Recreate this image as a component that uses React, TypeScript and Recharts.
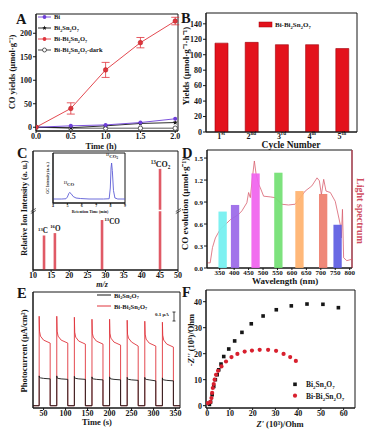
import React from "react";
import {
  Bar,
  BarChart,
  Cell,
  ErrorBar,
  LabelList,
  Line,
  LineChart,
  ComposedChart,
  ReferenceArea,
  ReferenceLine,
  Scatter,
  ScatterChart,
  XAxis,
  YAxis,
} from "recharts";

const FONT = "'Liberation Serif', 'Times New Roman', serif";
const INK = "#161616";
const RED = "#E0343C";

// ---- A: CO yields vs time
const timeH = [0, 0.5, 1.0, 1.5, 2.0];
const biYield = [0, 3, 5, 10, 18];
const bsoYield = [0, -1, 3, 8, 10];
const biBsoYield = [0, 40, 122, 180, 226];
const biBsoErr = [0, 12, 16, 11, 8];
const darkYield = [0, -2, -2, -2, -2];

// ---- B: cycling
const cycleNum = ["1", "2", "3", "4", "5"];
const cycleSuffix = ["st", "nd", "rd", "th", "th"];
const cycleYield = [115, 116, 113, 113, 108];

// ---- C: isotope MS
const massCharge = [13, 16, 29, 45];
const ionIntensity = [29, 31, 42, 85];
const ionMass = ["13", "16", "13", "13"];
const ionName = ["C", "O", "CO", "CO"];
const ionSub = ["", "", "", "2"];
// inset GC trace
const retTime = [4.0, 4.6, 4.9, 5.0, 5.1, 5.15, 5.25, 5.4, 5.6, 5.9, 6.5, 7.5, 7.9, 7.98, 8.03, 8.07, 8.12, 8.2, 8.3, 8.5, 9.0];
const gcIntensity = [8, 8, 8.5, 12, 19, 21, 19, 13, 10, 9, 8, 8, 8.5, 30, 70, 80, 65, 25, 10, 8, 8];

// ---- D: wavelength dependence
const bandCenter = [360, 403, 474, 553, 626, 708, 758];
const bandCO = [0.77, 0.86, 1.29, 1.3, 1.05, 1.01, 0.59];
const coTicks = [0, 0.3, 0.6, 0.9, 1.2, 1.5];
const wlTicks = [350, 400, 450, 500, 550, 600, 650, 700, 750, 800];
const specWl = [306, 317, 325, 335, 352, 369, 387, 415, 427, 444, 450, 456, 462, 470, 476, 485, 490, 502, 525, 542, 565, 588, 611, 629, 646, 669, 687, 695, 702, 710, 718, 733, 750, 767, 771, 775, 779, 790, 808];
const specVal = [0.07, 0.07, 0.28, 0.41, 0.53, 0.59, 0.66, 0.73, 0.78, 0.89, 1.03, 0.96, 1.19, 1.46, 1.28, 1.14, 1.1, 0.98, 0.97, 0.96, 0.87, 0.86, 0.87, 0.96, 1.05, 1.12, 1.23, 1.19, 1.0, 1.21, 1.05, 1.03, 0.91, 0.6, 0.41, 0.8, 0.14, 0.1, 0.12];
const bandPalette = ["#72F0F0", "#9A68E8", "#F062EE", "#72E072", "#FFB26E", "#EE7E6C", "#5C5CE2"];

// ---- E: photocurrent
const eTime = [
  26,
  40, 40, 40.8, 43, 50, 65, 65,
  80, 80, 80.8, 83, 90, 105, 105,
  120, 120, 120.8, 123, 130, 145, 145,
  160, 160, 160.8, 163, 170, 185, 185,
  200, 200, 200.8, 203, 210, 225, 225,
  240, 240, 240.8, 243, 250, 265, 265,
  280, 280, 280.8, 283, 290, 305, 305,
  320, 320, 320.8, 323, 330, 345, 345,
  360,
];
const eRed = [
  0,
  0, 90, 75, 70, 66, 63, 0,
  0, 90, 75, 70, 66, 63, 0,
  0, 89, 74, 69, 65, 62, 0,
  0, 87, 73, 69, 65, 62, 0,
  0, 87, 73, 68, 64, 61, 0,
  0, 86, 72, 68, 64, 60, 0,
  0, 85, 72, 67, 63, 60, 0,
  0, 84, 71, 66, 62, 59, 0,
  0,
];
const eBlack = [
  0,
  0, 30, 28.5, 28, 27.5, 27, 0,
  0, 30, 28, 27.5, 27, 26.5, 0,
  0, 29.5, 28, 27.5, 27, 26.5, 0,
  0, 29, 27.5, 27, 26.5, 26, 0,
  0, 29, 27.5, 27, 26.5, 26, 0,
  0, 28.5, 27, 26.5, 26, 25.5, 0,
  0, 28.5, 27, 26.5, 26, 25, 0,
  0, 28, 26.5, 26, 25.5, 25, 0,
  0,
];

// ---- F: Nyquist
const bsoRe = [1.0, 1.5, 2.2, 2.9, 3.6, 4.4, 5.1, 6.1, 7.3, 9.5, 12.1, 15.3, 19.4, 24.6, 30.4, 37.0, 43.9, 50.9, 57.7];
const bsoIm = [0.5, 1.4, 4.2, 7.4, 10.0, 11.9, 13.8, 16.0, 18.9, 21.8, 24.9, 28.2, 31.5, 34.5, 36.9, 38.4, 39.1, 39.0, 37.7];
const biBsoRe = [0.4, 1.4, 1.9, 2.2, 2.5, 2.9, 3.3, 3.9, 4.8, 6.3, 8.3, 10.7, 13.3, 16.5, 19.7, 23.1, 26.8, 30.3, 33.6, 36.5, 39.0];
const biBsoIm = [1.0, 1.4, 2.9, 4.9, 6.8, 8.3, 10.0, 11.9, 13.4, 15.1, 17.0, 18.7, 19.9, 20.8, 21.2, 21.5, 21.5, 21.1, 19.9, 18.7, 17.2];

type Seg = [string, number]; // 0 normal, 1 sub, 2 sup
const BSO: Seg[] = [["Bi", 0], ["2", 1], ["Sn", 0], ["2", 1], ["O", 0], ["7", 1]];
const BIBSO: Seg[] = [["Bi-", 0], ...BSO];

function Rich({ segs, size }: { segs: Seg[]; size: number }) {
  let prev = 0;
  return (
    <>
      {segs.map(([txt, k], i) => {
        const off = k === 1 ? size * 0.3 : k === 2 ? -size * 0.4 : 0;
        const dy = off - prev;
        prev = off;
        return (
          <tspan key={i} dy={dy} fontSize={k ? size * 0.65 : size}>
            {txt}
          </tspan>
        );
      })}
    </>
  );
}

const tick8 = { fontSize: 8, fontWeight: 700, fill: INK, fontFamily: FONT };
const tick7 = { ...tick8, fontSize: 7 };

function Frame({ y1, y2, yAxisId }: { y1: number; y2: number; yAxisId?: string }) {
  return <ReferenceArea yAxisId={yAxisId} y1={y1} y2={y2} fill="none" stroke={INK} strokeWidth={1} ifOverflow="visible" />;
}

function starPoints(cx: number, cy: number, r: number) {
  const pts: string[] = [];
  for (let k = 0; k < 10; k++) {
    const a = -Math.PI / 2 + (k * Math.PI) / 5;
    const rr = k % 2 === 0 ? r : r * 0.45;
    pts.push(`${cx + rr * Math.cos(a)},${cy + rr * Math.sin(a)}`);
  }
  return pts.join(" ");
}

// fixed-width bar drawn at the centre the scale gives
const slimBar = (w: number) => (p: any) => {
  if (!p.height || !Number.isFinite(p.height)) return <g />;
  return <rect x={p.x + p.width / 2 - w / 2} y={p.y} width={w} height={Math.max(p.height, 0)} fill={p.fill} fillOpacity={p.fillOpacity} />;
};

function PanelA() {
  const data = timeH.map((t, i) => ({
    t,
    bi: biYield[i],
    bso: bsoYield[i],
    bibso: biBsoYield[i],
    err: biBsoErr[i],
    dark: darkYield[i],
  }));
  return (
    <div style={{ position: "absolute", left: 0, top: 0 }}>
      <LineChart width={185} height={150} data={data} margin={{ top: 14, right: 7, left: 0, bottom: 0 }}>
        <Frame y1={-8} y2={241} />
        <XAxis dataKey="t" type="number" domain={[0, 2.04]} ticks={[0, 0.5, 1, 1.5, 2]} tickFormatter={(v) => Number(v).toFixed(1)} height={19} tick={tick8} tickSize={2} tickMargin={0} stroke={INK} allowDataOverflow />
        <YAxis domain={[-8, 241]} ticks={[0, 50, 100, 150, 200]} width={36} tick={tick8} tickSize={3} tickMargin={1} stroke={INK} allowDataOverflow />
        <Line dataKey="dark" stroke="#333" strokeWidth={0.8} isAnimationActive={false}
          dot={(p: any) => <circle key={p.index} cx={p.cx} cy={p.cy} r={2.2} fill="#fff" stroke="#333" strokeWidth={0.8} />} />
        <Line dataKey="bso" stroke={INK} strokeWidth={0.9} isAnimationActive={false}
          dot={(p: any) => <polygon key={p.index} points={starPoints(p.cx, p.cy, 2.6)} fill={INK} />} />
        <Line dataKey="bi" stroke="#6E3FD8" strokeWidth={0.9} isAnimationActive={false}
          dot={(p: any) => <circle key={p.index} cx={p.cx} cy={p.cy} r={2} fill="#6E3FD8" />} />
        <Line dataKey="bibso" stroke={RED} strokeWidth={0.9} isAnimationActive={false}
          dot={(p: any) => <circle key={p.index} cx={p.cx} cy={p.cy} r={2.3} fill={RED} stroke="#B02020" strokeWidth={0.5} />}>
          <ErrorBar dataKey="err" width={4} stroke={RED} strokeWidth={0.8} direction="y" />
        </Line>
      </LineChart>
    </div>
  );
}

function CycleTick(props: any) {
  const { x, payload } = props;
  const i = cycleNum.indexOf(String(payload.value));
  return (
    <text x={x} y={138.5} textAnchor="middle" fontSize={8} fontWeight={700} fontFamily={FONT} fill={INK}>
      <Rich segs={[[cycleNum[i], 0], [cycleSuffix[i], 2]]} size={8} />
    </text>
  );
}

function PanelB() {
  const data = cycleNum.map((c, i) => ({ cycle: c, y: cycleYield[i] }));
  return (
    <div style={{ position: "absolute", left: 185, top: 0 }}>
      <BarChart width={185} height={150} data={data} margin={{ top: 13, right: 13, left: 0, bottom: 0 }}>
        <Frame y1={0} y2={154} />
        <XAxis dataKey="cycle" height={18} tick={<CycleTick />} tickLine={false} tickSize={2} stroke={INK} />
        <YAxis domain={[0, 154]} ticks={[0, 20, 40, 60, 80, 100, 120, 140]} width={21} tick={tick8} tickSize={3} tickMargin={1} stroke={INK} allowDataOverflow />
        <Bar dataKey="y" barSize={13} fill="#E3121C" stroke="#A0000A" strokeWidth={0.6} isAnimationActive={false} />
      </BarChart>
    </div>
  );
}

function IonLabel(props: any) {
  const { x, y, width, index } = props;
  const cx = x + width / 2;
  const segs: Seg[] = [[ionMass[index], 2], [ionName[index], 0]];
  if (ionSub[index]) segs.push([ionSub[index], 1]);
  const fs = index === 3 ? 8 : 7.2;
  if (index === 2) {
    return (
      <text x={cx + 2.5} y={y + 4} fontSize={fs} fontWeight={700} fontFamily={FONT} fill={INK}>
        <Rich segs={segs} size={fs} />
      </text>
    );
  }
  return (
    <text x={cx + (index === 0 ? -1 : 0.5)} y={y - 2} textAnchor="middle" fontSize={fs} fontWeight={700} fontFamily={FONT} fill={INK}>
      <Rich segs={segs} size={fs} />
    </text>
  );
}

function PanelC() {
  const data = massCharge.map((m, i) => ({ m, v: ionIntensity[i] }));
  const gc = retTime.map((t, i) => ({ t, v: gcIntensity[i] }));
  return (
    <>
      <div style={{ position: "absolute", left: 0, top: 140 }}>
        <ComposedChart width={185} height={145} data={data} margin={{ top: 11, right: 7, left: 0, bottom: 0 }}>
          <Frame y1={0} y2={100} />
          <XAxis dataKey="m" type="number" domain={[10, 50]} ticks={[10, 15, 20, 25, 30, 35, 40, 45, 50]} interval={0} height={15} tick={tick8} tickSize={2} tickMargin={0} stroke={INK} allowDataOverflow />
          <YAxis domain={[0, 100]} width={33} tick={false} tickLine={false} stroke={INK} />
          <Bar dataKey="v" fill="#E05A66" shape={slimBar(2.6)} isAnimationActive={false}>
            <LabelList dataKey="v" content={<IonLabel />} />
          </Bar>
          <ReferenceLine y={50} stroke="#fff" strokeWidth={1.6} />
        </ComposedChart>
      </div>
      <div style={{ position: "absolute", left: 40, top: 150 }}>
        <LineChart width={90} height={68} data={gc} margin={{ top: 3, right: 5, left: 0, bottom: 0 }}>
          <Frame y1={0} y2={100} />
          <XAxis dataKey="t" type="number" domain={[4, 9]} ticks={[4, 5, 6, 7, 8, 9]} interval={0} height={15} tick={{ ...tick8, fontSize: 4 }} tickSize={1.5} tickMargin={0} stroke={INK} />
          <YAxis domain={[0, 100]} width={13} tick={false} tickLine={false} stroke={INK} />
          <Line dataKey="v" stroke="#5C5CD6" strokeWidth={0.9} dot={false} isAnimationActive={false} />
        </LineChart>
      </div>
    </>
  );
}

// D plot box (page px), used only for the left-axis value labels
const D_TOP = 150;
const D_BOTTOM = 268;
const D_LEFT = 207;
const D_MAX = 1.61;

function PanelD() {
  const bands = bandCenter.map((wl, i) => ({ wl, co: bandCO[i] }));
  const spec = specWl.map((wl, i) => ({ wl, spec: specVal[i] }));
  const margin = { top: 10, right: 18, left: 0, bottom: 0 };
  return (
    <>
      {/* axes + light spectrum */}
      <div style={{ position: "absolute", left: 185, top: 140 }}>
        <LineChart width={185} height={145} data={spec} margin={margin}>
          <Frame y1={0} y2={D_MAX} />
          <XAxis dataKey="wl" type="number" domain={[306, 808]} ticks={wlTicks} interval={0} height={17} tick={tick7} tickSize={2} tickMargin={0} stroke={INK} allowDataOverflow />
          <YAxis domain={[0, D_MAX]} ticks={coTicks} width={22} tick={false} tickLine={false} stroke={INK} allowDataOverflow />
          <Line dataKey="spec" stroke="#D8606E" strokeWidth={0.8} dot={false} isAnimationActive={false} />
          <ReferenceLine x={808} stroke="#D04E62" strokeWidth={1.2} />
        </LineChart>
      </div>
      {/* monochromatic bands, same plot box, drawn on top */}
      <div style={{ position: "absolute", left: 185, top: 140 }}>
        <BarChart width={185} height={145} data={bands} margin={margin}>
          <XAxis dataKey="wl" type="number" domain={[306, 808]} height={17} tick={false} tickLine={false} axisLine={false} allowDataOverflow />
          <YAxis domain={[0, D_MAX]} width={22} tick={false} tickLine={false} axisLine={false} allowDataOverflow />
          <Bar dataKey="co" fillOpacity={0.92} shape={slimBar(8.3)} isAnimationActive={false}>
            {bands.map((_, i) => (
              <Cell key={i} fill={bandPalette[i]} />
            ))}
          </Bar>
        </BarChart>
      </div>
    </>
  );
}

function PanelE() {
  const data = eTime.map((t, i) => ({ t, red: eRed[i], black: eBlack[i] }));
  return (
    <div style={{ position: "absolute", left: 0, top: 285 }}>
      <LineChart width={185} height={146} data={data} margin={{ top: 7, right: 5, left: 0, bottom: 0 }}>
        <Frame y1={-2.3} y2={114.4} />
        <XAxis dataKey="t" type="number" domain={[26, 360]} ticks={[50, 100, 150, 200, 250, 300, 350]} interval={0} height={23} tick={tick8} tickSize={2} tickMargin={0} stroke={INK} allowDataOverflow />
        <YAxis domain={[-2.3, 114.4]} width={33} tick={false} tickLine={false} stroke={INK} allowDataOverflow />
        <Line dataKey="red" stroke={RED} strokeWidth={0.9} dot={false} isAnimationActive={false} />
        <Line dataKey="black" stroke={INK} strokeWidth={0.9} dot={false} isAnimationActive={false} />
      </LineChart>
    </div>
  );
}

function PanelF() {
  const bso = bsoRe.map((x, i) => ({ x, y: bsoIm[i] }));
  const bibso = biBsoRe.map((x, i) => ({ x, y: biBsoIm[i] }));
  return (
    <div style={{ position: "absolute", left: 185, top: 285 }}>
      <ScatterChart width={185} height={146} margin={{ top: 5, right: 15, left: 0, bottom: 0 }}>
        <Frame y1={-0.9} y2={44.5} />
        <XAxis dataKey="x" type="number" domain={[-0.5, 65]} ticks={[0, 10, 20, 30, 40, 50, 60]} interval={0} height={23} tick={tick8} tickSize={2} tickMargin={0} stroke={INK} allowDataOverflow />
        <YAxis dataKey="y" type="number" domain={[-0.9, 44.5]} ticks={[0, 10, 20, 30, 40]} interval={0} width={21} tick={tick8} tickSize={3} tickMargin={1} stroke={INK} allowDataOverflow />
        <Scatter data={bso} isAnimationActive={false}
          shape={(p: any) => <rect x={p.cx - 1.8} y={p.cy - 1.8} width={3.6} height={3.6} fill={INK} />} />
        <Scatter data={bibso} isAnimationActive={false}
          shape={(p: any) => <circle cx={p.cx} cy={p.cy} r={2.1} fill="#D8202E" />} />
      </ScatterChart>
    </div>
  );
}

function VText({ x, y, size = 8.5, rot = -90, color = INK, children }: any) {
  return (
    <text x={x} y={y} fontSize={size} fill={color} textAnchor="middle" dominantBaseline="middle" transform={`rotate(${rot} ${x} ${y})`}>
      {children}
    </text>
  );
}

function Overlay() {
  const legendA = [
    { y: 17, color: "#6E3FD8", kind: "dot", segs: [["Bi", 0]] as Seg[] },
    { y: 28, color: INK, kind: "star", segs: BSO },
    { y: 39, color: RED, kind: "dot", segs: BIBSO },
    { y: 50, color: "#333", kind: "open", segs: [...BIBSO, ["-dark", 0]] as Seg[] },
  ];
  return (
    <svg width={370} height={431} style={{ position: "absolute", left: 0, top: 0, pointerEvents: "none" }} fontFamily={FONT} fontWeight={700} fill={INK}>
      {/* panel letters */}
      <text x={16} y={23.5} fontSize={14.5}>A</text>
      <text x={181} y={22.5} fontSize={14.5}>B</text>
      <text x={17} y={157.5} fontSize={14.5}>C</text>
      <text x={182} y={158} fontSize={14.5}>D</text>
      <text x={17} y={297.5} fontSize={14.5}>E</text>
      <text x={182} y={297} fontSize={14.5}>F</text>

      {/* A */}
      {legendA.map((e, i) => (
        <g key={i}>
          <line x1={38} x2={51} y1={e.y} y2={e.y} stroke={e.color} strokeWidth={0.9} />
          {e.kind === "dot" && <circle cx={44.5} cy={e.y} r={1.9} fill={e.color} />}
          {e.kind === "star" && <polygon points={starPoints(44.5, e.y, 2.4)} fill={e.color} />}
          {e.kind === "open" && <circle cx={44.5} cy={e.y} r={2} fill="#fff" stroke={e.color} strokeWidth={0.8} />}
          <text x={54} y={e.y + 2.3} fontSize={6.5}>
            <Rich segs={e.segs} size={6.5} />
          </text>
        </g>
      ))}
      <text x={101} y={148.5} fontSize={8.5} textAnchor="middle">Time (h)</text>
      <VText x={13} y={72}>CO yields (μmol·g⁻¹)</VText>

      {/* B */}
      <rect x={259} y={22} width={13} height={5} fill="#E3121C" stroke="#A0000A" strokeWidth={0.5} />
      <text x={275} y={27} fontSize={7}>
        <Rich segs={BIBSO} size={7} />
      </text>
      <text x={291} y={147.5} fontSize={9.5} textAnchor="middle">Cycle Number</text>
      <VText x={187} y={66} size={9}>Yields (μmol·g⁻¹·h⁻¹)</VText>

      {/* C */}
      <text x={102} y={286.5} fontSize={8} textAnchor="middle" fontStyle="italic">m/z</text>
      <VText x={25} y={208} size={8}>Relative Ion Intensity (a. u.)</VText>
      {[33.3, 178.3].map((bx) => (
        <g key={bx} stroke={INK} strokeWidth={0.7}>
          <line x1={bx - 2.5} y1={211.5} x2={bx + 2.5} y2={208.5} />
          <line x1={bx - 2.5} y1={213.5} x2={bx + 2.5} y2={210.5} />
        </g>
      ))}
      <text x={69} y={186} fontSize={4.8} textAnchor="middle">
        <Rich segs={[["13", 2], ["CO", 0]]} size={4.8} />
      </text>
      <text x={112} y={157.5} fontSize={4.8} textAnchor="middle">
        <Rich segs={[["13", 2], ["CO", 0], ["2", 1]]} size={4.8} />
      </text>
      <text x={90} y={213} fontSize={4} textAnchor="middle">Retention Time (min)</text>
      <VText x={48} y={178} size={3.8}>GC Intensity (a. u.)</VText>

      {/* D */}
      {coTicks.map((v) => {
        const y = D_BOTTOM - (v / D_MAX) * (D_BOTTOM - D_TOP);
        return (
          <g key={v}>
            <line x1={D_LEFT - 3} x2={D_LEFT} y1={y} y2={y} stroke={INK} strokeWidth={1} />
            <text x={D_LEFT - 4} y={y + 2.5} fontSize={7} textAnchor="end">
              {v.toFixed(1)}
            </text>
          </g>
        );
      })}
      <text x={285} y={284} fontSize={9} textAnchor="middle">Wavelength (nm)</text>
      <VText x={186} y={204} size={9}>CO evolution (μmol·g⁻¹)</VText>
      <VText x={359.5} y={211} size={10} rot={90} color="#D04E62">Light spectrum</VText>

      {/* E */}
      <line x1={97} x2={111} y1={295} y2={295} stroke={INK} strokeWidth={1} />
      <text x={114} y={297.5} fontSize={6.5}>
        <Rich segs={BSO} size={6.5} />
      </text>
      <line x1={97} x2={111} y1={306} y2={306} stroke={RED} strokeWidth={1} />
      <text x={114} y={308.5} fontSize={6.5}>
        <Rich segs={BIBSO} size={6.5} />
      </text>
      <text x={155} y={316} fontSize={5}>0.1 μA</text>
      <g stroke={INK} strokeWidth={0.8}>
        <line x1={174} x2={174} y1={312} y2={321} />
        <line x1={172.5} x2={175.5} y1={312} y2={312} />
        <line x1={172.5} x2={175.5} y1={321} y2={321} />
      </g>
      <text x={97} y={425} fontSize={8.5} textAnchor="middle">Time (s)</text>
      <VText x={25} y={351}>Photocurrent (μA/cm²)</VText>

      {/* F */}
      <rect x={293.2} y={382.5} width={3.6} height={3.6} fill={INK} />
      <text x={306} y={387} fontSize={7.5}>
        <Rich segs={BSO} size={7.5} />
      </text>
      <circle cx={295} cy={395.7} r={2.1} fill="#D8202E" />
      <text x={306} y={398.5} fontSize={7.5}>
        <Rich segs={BIBSO} size={7.5} />
      </text>
      <text x={280} y={427} fontSize={8.5} textAnchor="middle">
        <tspan fontStyle="italic">Z'</tspan> (10³)/Ohm
      </text>
      <VText x={192} y={340}>
        <tspan fontStyle="italic">-Z''</tspan> (10³)/Ohm
      </VText>
    </svg>
  );
}

export default function App() {
  return (
    <div style={{ position: "absolute", left: 0, top: 0, width: 370, height: 431, background: "#fff", fontFamily: FONT, overflow: "hidden" }}>
      <PanelA />
      <PanelB />
      <PanelC />
      <PanelD />
      <PanelE />
      <PanelF />
      <Overlay />
    </div>
  );
}
